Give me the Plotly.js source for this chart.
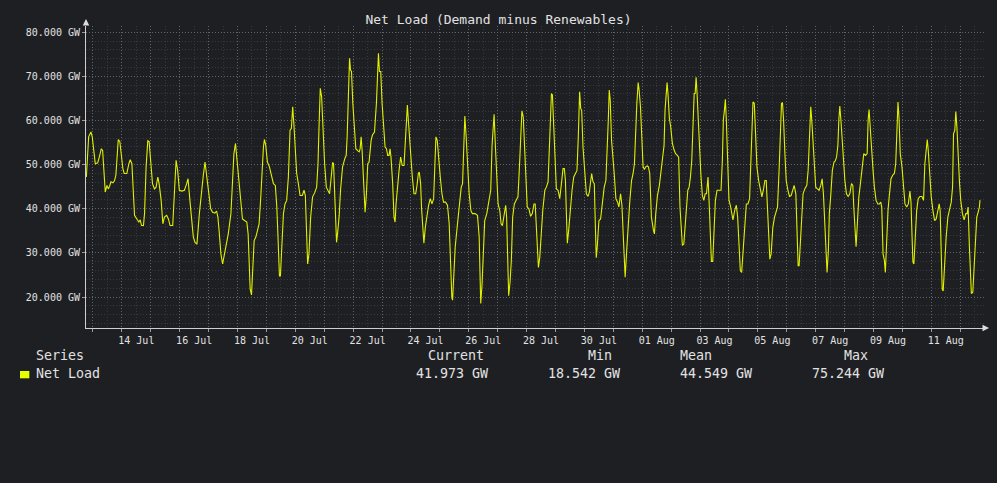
<!DOCTYPE html>
<html>
<head>
<meta charset="utf-8">
<script src="https://cdn.plot.ly/plotly-3.0.1.min.js"></script>
<style>
html,body{margin:0;padding:0;background:#1e1f22;}
#chart{width:997px;height:483px;}
</style>
</head>
<body>
<div id="chart"></div>
<script>
// ---- Data: hours after 13 Jul 00:00, and net load in GW ----
const hoursA = [-5.5,-3.6,-1.7,-0.6,1.9,3.9,5.5,6.9,8.0,9.4,10.2,11.6,12.7,13.8,14.9,16.6,17.9,19.0,19.9,21.0,22.3,23.4,24.8,25.9,28.1,29.8,30.9,32.3,33.7,34.5,36.4,38.1,39.2,40.3,41.9,42.8,44.1,45.5,46.6,48.0,49.4,51.0,52.4,53.8,54.9,56.6,58.0,59.3,61.2,62.6,64.0,66.2,67.6,69.0,70.3,71.7,73.7,75.9,77.8,78.9,80.6,81.9,83.3,84.7,86.3,88.3,90.5,91.6,93.0,94.3,96.0,97.7,99.3,101.2,102.6,103.7,104.8,106.2,107.6,108.7,110.1,112.3,114.5,115.9,117.0,118.3];
const loadA  = [47.2,56.3,57.4,56.3,50.2,50.4,52.0,53.6,53.2,47.2,43.8,45.3,44.5,45.1,46.1,45.9,46.4,47.6,52.5,55.7,55.2,52.5,49.1,48.0,48.0,50.2,51.1,50.2,42.7,38.5,37.7,37.0,37.5,36.2,36.2,38.9,49.5,55.4,55.2,50.2,45.7,44.5,44.9,47.2,45.7,41.9,36.6,38.1,38.5,37.7,36.2,36.2,44.9,51.0,48.7,44.2,44.0,44.2,45.7,46.8,41.5,38.1,33.6,32.4,32.0,38.9,45.7,47.6,50.6,47.6,43.8,40.0,39.2,39.0,39.5,38.1,34.7,29.8,27.5,29.0,30.5,34.3,38.9,47.2,52.5,54.8];

const hoursB = [119.4,120.6,121.7,122.8,124.1,126.1,127.7,128.8,129.7,130.5,131.6,132.7,133.8,135.2,136.6,137.9,139.3,140.4,141.5,142.3,143.4,144.8,146.5,148.1,149.8,151.4,152.6,153.7,154.8,155.6,156.7,158.1,159.4,160.8,162.2,163.6,164.7,165.8,166.9,168.3,169.1,170.5,171.9,173.8,175.2,176.3,177.4,178.2,179.3,180.7,182.3,184.0,185.7,186.8,187.9,188.7,189.8,190.9,192.3,193.7,195.3,196.4,197.5,198.9,199.7,200.6,201.4,202.2,203.3,204.4,205.5,207.2,209.1,210.2,211.0,212.1,213.0,213.8,214.6,215.7,217.1,218.2,219.9,221.0,221.8,222.6,223.4,224.8,225.9,227.0,228.1,229.2,230.9,232.0,233.7,235.3,236.1,237.0,237.8,238.9,240.0];
const loadB  = [51.7,48.7,44.9,40.8,37.7,37.3,37.0,34.3,28.3,21.8,20.5,26.7,32.8,33.6,35.1,36.6,42.7,49.5,54.0,55.7,54.4,50.6,49.5,47.6,45.7,45.3,40.4,32.8,24.8,24.8,31.3,38.9,41.1,41.9,47.2,57.8,58.2,63.1,58.6,52.5,48.0,45.7,43.0,43.0,44.2,43.0,35.8,27.5,29.8,38.1,42.7,43.6,44.9,50.2,60.8,67.3,65.4,57.8,50.2,44.9,43.8,43.4,46.4,50.5,50.2,43.4,36.6,32.4,35.1,38.5,44.2,49.5,51.4,52.1,56.3,67.7,74.1,71.4,71.1,63.9,57.8,53.6,53.1,52.9,53.6,56.3,53.3,46.4,39.2,43.4,50.2,50.6,55.5,56.7,57.4,63.9,70.3,75.24,71.1,71.1,63.9];

const hoursC = [241.4,242.5,243.6,244.7,245.8,246.6,247.4,248.8,249.9,250.8,251.6,252.7,254.1,255.4,256.8,258.2,259.3,260.1,261.0,261.8,262.9,264.0,265.1,266.5,267.9,269.0,270.1,270.9,272.0,272.8,273.9,274.7,275.9,277.2,278.6,280.0,281.4,282.8,283.9,284.7,285.8,286.9,288.3,289.7,291.0,292.7,294.3,295.7,296.8,297.9,298.5,299.6,300.7,302.3,304.0,305.7,306.8,307.9,308.7,309.8,310.9,312.3,313.7,315.0,317.2,319.2,320.6,321.4,321.9,323.0,324.1,325.2,326.9,328.5,330.2,331.3,332.1,333.0,334.1,335.2,336.3,337.7,338.8,339.9,341.2,342.6,343.4,344.3,345.1,346.2,347.3,348.4,349.8,351.2,352.8,353.9,355.0,356.1,357.2,358.3,359.4,360.5,361.9,363.3,364.7,366.1];
const loadC  = [57.6,54.0,53.6,52.1,52.1,53.6,51.7,45.7,38.1,37.0,41.1,44.9,48.7,51.7,49.8,49.8,54.8,60.1,63.5,60.1,55.2,51.0,47.2,43.4,43.4,45.3,48.0,48.3,45.7,40.0,34.3,32.2,35.8,38.9,40.8,42.3,41.1,42.3,51.0,56.3,55.5,51.0,47.2,43.4,41.5,41.5,40.8,36.6,26.7,19.9,19.3,25.2,31.3,35.8,40.4,44.9,45.7,54.0,61.0,56.3,49.5,43.4,39.6,38.9,38.9,38.5,33.6,25.2,18.54,23.0,31.3,37.3,38.9,41.1,44.2,54.4,57.8,61.4,54.0,48.7,41.1,39.6,36.6,36.2,38.1,40.8,38.1,30.5,20.3,23.3,28.3,38.1,41.1,41.9,42.7,48.7,56.3,62.2,60.8,54.0,47.2,40.4,40.0,38.3,38.9,41.1];

const hoursD = [367.1,368.2,369.3,369.8,370.9,372.0,373.4,375.1,376.4,377.8,378.6,379.8,380.6,381.4,382.5,383.6,384.7,386.1,387.5,388.9,390.2,391.3,392.2,393.0,393.8,394.9,396.3,397.7,399.1,400.4,401.8,402.9,404.0,404.9,405.7,406.8,408.2,409.6,411.0,412.1,412.9,414.0,415.1,416.2,417.0,417.8,418.6,420.0,421.4,422.8,424.4,425.8,426.9,427.8,428.6,429.4,430.5,431.6,432.7,434.1,435.5,436.6,438.0,439.1,439.9,441.0,441.8,442.9,444.3,445.7,447.1,448.4,449.5,450.6,451.5,452.6,453.4,454.5,455.6,456.7,457.8,458.9,460.0,461.1,462.2,463.6,465.3,466.1,467.2,468.6,470.2,471.6,473.0,474.1,474.9,475.8,476.6,477.4,478.5,479.6,481.0,482.4,483.7,485.1,486.2,487.3,488.4,489.3];
const loadD  = [41.1,34.3,29.0,26.7,29.0,34.3,39.6,44.2,44.9,46.1,52.5,60.8,66.1,65.8,57.8,49.5,44.5,44.2,42.3,45.7,49.1,49.1,46.4,38.9,32.2,35.1,40.4,44.2,47.2,48.0,48.7,56.3,66.5,62.7,62.3,54.0,47.2,43.4,42.8,43.8,45.7,48.0,46.1,45.7,36.6,28.9,31.3,37.3,37.7,41.9,44.9,46.4,52.5,60.1,66.9,64.6,55.5,52.5,48.0,42.3,41.5,40.4,43.4,40.8,35.8,29.4,24.5,29.8,37.3,41.9,46.4,48.0,50.2,58.6,63.9,68.6,66.9,63.1,55.5,49.5,48.9,49.5,49.7,49.5,48.0,38.1,35.1,34.3,38.9,43.0,45.3,48.7,51.0,54.4,62.3,66.5,68.6,65.8,60.5,58.6,54.8,53.3,52.5,52.1,51.7,40.4,33.6,31.7];

const hoursE = [490.5,491.6,492.7,493.8,494.9,496.0,497.1,498.2,499.1,499.9,500.7,501.5,502.6,503.5,504.6,505.9,507.1,508.2,509.3,510.1,510.6,511.5,512.6,513.4,514.5,515.6,516.7,518.1,519.8,521.4,522.5,523.3,524.2,525.0,525.8,526.9,528.0,529.1,530.2,531.3,532.7,534.1,535.2,536.3,537.4,538.5,539.6,541.0,542.4,543.7,545.1,546.2,547.1,547.9,549.0,550.1,551.2,552.6,554.0,555.3,556.7,557.8,558.9,560.0,561.1,561.9,563.0,564.4,565.8,567.2,568.3,569.7,570.8,571.6,572.4,573.3,574.4,575.5,576.9,578.2,579.6,581.0,582.1,583.5,584.6,585.4,586.2,587.1,588.2,589.5,590.9,592.6,593.7,594.8,595.9,596.7,597.8,598.9,600.0,601.4,602.8,604.2,605.3,606.4,607.5,608.6,609.4,610.5,611.3,612.4,613.8,615.2];
const loadE  = [32.0,35.8,40.4,44.2,44.9,47.2,51.0,57.8,66.1,66.1,69.8,66.1,59.3,51.7,48.0,43.0,41.9,43.4,43.4,45.7,47.2,41.5,32.8,28.1,28.1,34.3,41.9,44.2,44.2,44.2,51.0,60.1,62.3,64.8,60.1,52.5,41.9,40.8,38.9,37.5,39.6,40.8,38.1,31.3,26.0,25.6,30.5,37.3,41.1,41.1,42.3,51.0,60.1,64.2,63.9,55.5,49.5,46.4,44.5,42.7,44.5,46.4,46.4,38.9,32.0,28.6,29.8,35.8,38.1,39.6,40.4,49.5,60.1,63.9,64.0,60.1,52.5,46.4,44.2,42.8,43.0,44.2,45.3,43.4,35.8,27.1,27.1,31.3,38.9,43.4,44.5,45.3,48.7,57.8,63.1,60.1,54.0,48.7,44.9,44.5,44.2,45.3,46.8,43.4,35.8,28.3,25.6,30.5,38.9,42.7,48.7,50.6];

const hoursF = [616.1,617.3,618.4,619.2,620.0,620.9,622.0,623.1,624.2,625.5,626.9,628.3,629.7,630.8,631.6,632.4,633.5,634.7,635.8,637.1,638.5,639.9,641.3,642.7,643.5,644.3,645.4,646.5,647.6,648.7,650.1,651.5,652.9,654.0,654.8,655.9,657.0,657.8,658.9,660.0,661.1,662.5,663.9,665.3,666.4,667.5,668.3,669.1,670.2,671.6,672.7,674.1,675.5,676.9,678.2,679.1,679.9,680.7,681.5,682.4,683.8,685.1,686.5,688.2,689.5,690.6,691.7,692.6,693.4,694.5,695.9,697.3,698.7,700.0,701.4,702.5,703.3,704.2,705.0,705.8,706.9,708.3,709.7,711.1,712.5,713.6,714.4,715.5,716.3,717.2,718.3,719.4,720.4,721.8,723.2,724.6,725.7,726.5,727.6,728.4,729.2,730.4,731.5,732.6,733.7,734.8,735.9,736.4];
const loadF  = [50.8,51.7,54.4,60.1,63.3,60.1,54.4,51.0,46.4,43.4,42.8,43.4,45.7,45.3,40.4,36.6,31.4,37.3,42.7,45.7,48.7,52.5,52.1,52.5,60.1,62.5,57.8,52.5,48.7,44.9,41.9,41.1,41.1,41.5,40.4,29.8,28.3,25.6,33.6,39.6,43.0,46.8,47.6,48.0,50.2,60.1,64.2,60.8,52.5,49.5,45.7,41.1,40.4,41.1,44.0,41.5,34.3,27.9,27.5,33.6,39.6,42.3,42.8,42.8,41.9,50.2,54.0,55.7,53.3,48.0,42.7,39.6,37.3,37.7,39.9,41.1,39.6,31.3,21.8,21.4,27.5,33.6,38.1,39.6,41.5,44.9,57.0,57.8,62.0,58.6,50.2,45.7,41.9,38.9,37.5,38.9,38.9,40.4,31.3,23.0,20.8,21.1,27.5,34.3,38.1,39.2,40.4,41.97];

const seriesName = 'Net Load';
const chartTitle = 'Net Load (Demand minus Renewables)';
const legendHeaders = ['Series', 'Current', 'Min', 'Mean', 'Max'];
const legendValues = ['Net Load', '41.973 GW', '18.542 GW', '44.549 GW', '75.244 GW'];

// ---- Build ----
const base = Date.UTC(2025, 6, 13, 0, 0, 0);
function hToDate(h) {
  return new Date(base + h * 3600000).toISOString().slice(0, 19).replace('T', ' ');
}
const hours = [].concat(hoursA, hoursB, hoursC, hoursD, hoursE, hoursF);
const load = [].concat(loadA, loadB, loadC, loadD, loadE, loadF);
const x = hours.map(hToDate);

const FONT = 'DejaVu Sans Mono, monospace';
const BG = '#1e1f22';
const TXT = '#e2e2e2';

const trace = {
  type: 'scatter', mode: 'lines', name: seriesName,
  x: x, y: load,
  line: {color: '#e0f000', width: 1.1},
  hoverinfo: 'skip', showlegend: false
};

// legend table (below plot)
const colX = [-0.0557, 0.3808, 0.5590, 0.6615, 0.8441];
const valX = [-0.0557, 0.3675, 0.5145, 0.6615, 0.8085];
const annotations = [];
legendHeaders.forEach((t, i) => annotations.push({
  text: t, xref: 'paper', yref: 'paper', x: colX[i], y: -0.0927, xshift: -2,
  xanchor: 'left', yanchor: 'middle', showarrow: false,
  font: {family: FONT, size: 13.3, color: TXT}
}));
legendValues.forEach((t, i) => annotations.push({
  text: t, xref: 'paper', yref: 'paper', x: valX[i], y: -0.1523, xshift: -2,
  xanchor: 'left', yanchor: 'middle', showarrow: false,
  font: {family: FONT, size: 13.3, color: TXT}
}));
// axis arrows
annotations.push({
  text: '', xref: 'paper', yref: 'paper', x: 0, y: 1, ax: 0, ay: 7, yshift: 7,
  showarrow: true, arrowhead: 2, arrowsize: 1.3, arrowwidth: 1, arrowcolor: '#dddddd'
});
annotations.push({
  text: '', xref: 'paper', yref: 'paper', x: 1, y: 0, ax: -7, ay: 0, xshift: 5,
  showarrow: true, arrowhead: 2, arrowsize: 1.3, arrowwidth: 1, arrowcolor: '#dddddd'
});

const layout = {
  width: 997, height: 483,
  paper_bgcolor: BG, plot_bgcolor: BG,
  margin: {l: 86, r: 13, t: 26, b: 155, pad: 0},
  title: {
    text: chartTitle, xref: 'container', yref: 'container', x: 0.5, y: 0.9607,
    xanchor: 'center', yanchor: 'middle',
    font: {family: FONT, size: 13, color: TXT}
  },
  xaxis: {
    type: 'date',
    range: [hToDate(-5.8), hToDate(739.7)],
    tickmode: 'linear', tick0: '2025-07-14', dtick: 86400000,
    ticklabelmode: 'period', ticklabelstep: 2, tickformat: '%d %b',
    tickfont: {family: FONT, size: 10, color: TXT},
    ticks: 'outside', ticklen: 3, tickcolor: '#9a9a9a',
    showgrid: true, gridcolor: '#636467', griddash: '1px,2px', gridwidth: 1,
    minor: {dtick: 43200000, tick0: '2025-07-13', showgrid: true, gridcolor: '#37383c', griddash: '1px,2px', ticks: ''},
    showline: true, linecolor: '#cfcfcf', linewidth: 1,
    zeroline: false, fixedrange: true
  },
  yaxis: {
    range: [13.0, 81.4],
    tickmode: 'linear', tick0: 0, dtick: 10,
    tickformat: '.3f', ticksuffix: ' GW',
    tickfont: {family: FONT, size: 10, color: TXT},
    ticks: 'outside', ticklen: 3, tickcolor: '#9a9a9a',
    showgrid: true, gridcolor: '#636467', griddash: '1px,2px', gridwidth: 1,
    minor: {dtick: 2, showgrid: true, gridcolor: '#37383c', griddash: '1px,2px', ticks: ''},
    showline: true, linecolor: '#cfcfcf', linewidth: 1,
    zeroline: false, fixedrange: true
  },
  shapes: [{
    type: 'rect', xref: 'paper', yref: 'paper',
    x0: -0.0735, x1: -0.0631, y0: -0.1666, y1: -0.1424,
    fillcolor: '#e5ff00', line: {width: 0}
  }],
  annotations: annotations,
  showlegend: false
};

Plotly.newPlot('chart', [trace], layout, {displayModeBar: false, staticPlot: true});
</script>
</body>
</html>
